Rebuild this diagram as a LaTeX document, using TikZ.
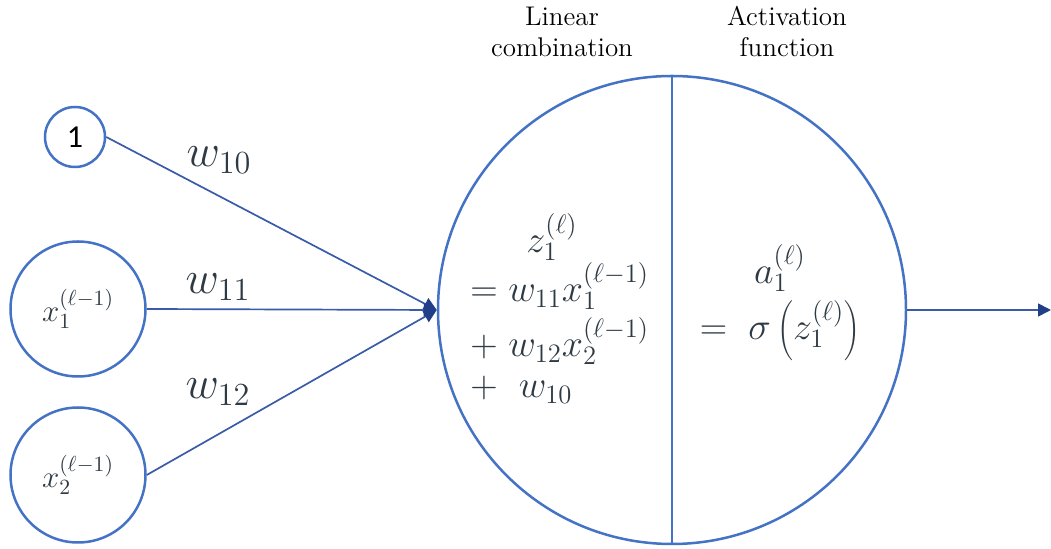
\RequirePackage{fix-cm}
\documentclass[tikz,border=0pt]{standalone}
\usepackage{fontspec}
\newfontfamily\calibri{Carlito}
\usetikzlibrary{arrows.meta}
\definecolor{circblue}{HTML}{4472C4}
\definecolor{linkblue}{HTML}{3A5BA8}
\definecolor{tipblue}{HTML}{203F88}
\definecolor{mathgray}{HTML}{2E3A44}
\begin{document}
\begin{tikzpicture}[x=0.5pt,y=-0.5pt,
  unit/.style={circle,draw=circblue,line width=1.25pt,inner sep=0pt},
  link/.style={draw=linkblue,line width=0.85pt,-{Triangle[length=6.5pt,width=6.5pt,color=tipblue]}},
  wlab/.style={text=mathgray,inner sep=0pt,font=\fontsize{23}{27}\selectfont},
  mtext/.style={text=mathgray,inner sep=0pt,font=\fontsize{19}{22}\selectfont},
  intext/.style={text=mathgray,font=\fontsize{15.5}{18}\selectfont},
  toplab/.style={align=center,inner sep=0pt,font=\fontsize{13.5}{15.5}\selectfont}]
\useasboundingbox (0,0) rectangle (1051,549);
% units
\node[unit,minimum size=234pt] (neuron) at (672,310) {};
\node[unit,minimum size=30pt,font=\calibri\fontsize{16}{18}\selectfont] (one) at (75,137) {1};
\node[unit,minimum size=67.5pt,intext] (x1) at (78,309) {$x_1^{(\ell-1)}$};
\node[unit,minimum size=67.5pt,intext] (x2) at (78,475) {$x_2^{(\ell-1)}$};
\coordinate (out) at (1051,310);
% divider
\draw[circblue,line width=1.4pt] (neuron.north) -- (neuron.south);
% connectors
\draw[link] (one.east) -- (neuron.west);
\draw[link] (x1.east) -- (neuron.west);
\draw[link] (x2.east) -- (neuron.west);
\draw[link] (neuron.east) -- (out);
% weights
\node[wlab] (w10) at (219,160) {$w_{10}$};
\node[wlab] (w11) at (218,287) {$w_{11}$};
\node[wlab] (w12) at (218,392) {$w_{12}$};
% headings
\node[toplab] (lin) at (562,32) {Linear\\combination};
\node[toplab] (act) at (787,32) {Activation\\function};
% linear combination
\node[mtext,anchor=base] (z) at (552,253) {$z_1^{(\ell)}$};
\node[mtext,anchor=base west] (l2) at (470,302) {$=w_{11}x_1^{(\ell-1)}$};
\node[mtext,anchor=base west] (l3) at (470,357) {$+\;w_{12}x_2^{(\ell-1)}$};
\node[mtext,anchor=base west] (l4) at (470,398) {$+\;\;w_{10}$};
% activation
\node[mtext,align=center,anchor=base,font=\fontsize{19}{28}\selectfont] (act-eq) at (780,340)
  {$a_1^{(\ell)}$\\$=\;\sigma\,\smash{\left(z_1^{(\ell)}\right)}$};
\end{tikzpicture}
\end{document}
